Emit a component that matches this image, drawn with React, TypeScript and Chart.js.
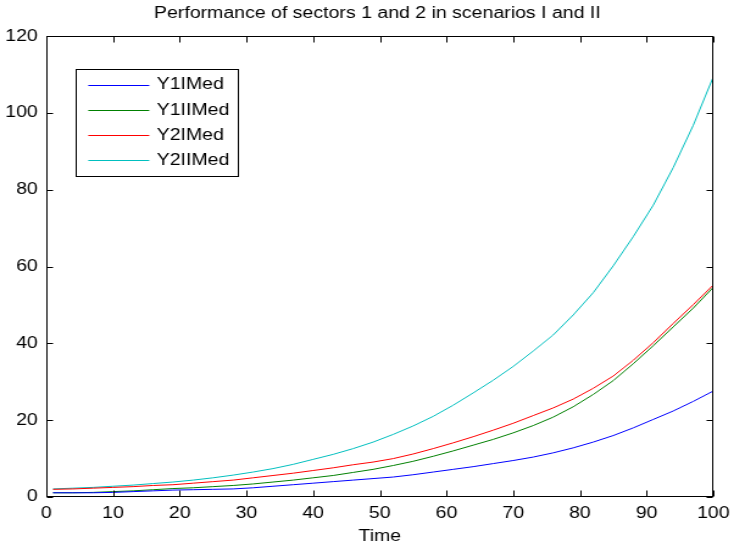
import React, { useEffect, useRef } from "react";
import { Chart, registerables } from "chart.js";

Chart.register(...registerables);

// ---------- data ----------
const chartTitle = "Performance of sectors 1 and 2 in scenarios I and II";
const xAxisLabel = "Time";
const seriesNames = ["Y1IMed", "Y1IIMed", "Y2IMed", "Y2IIMed"];
const seriesColors = ["#0000ff", "#008000", "#ff0000", "#00bfbf"];

const timeValues = [1, 4, 7, 10, 13, 16, 19, 22, 25, 28, 31, 34, 37, 40, 43, 46, 49, 52, 55, 58, 61, 64, 67, 70, 73, 76, 79, 82, 85, 88, 91, 94, 97, 100];

const y1IMed = [1.1, 1.1, 1.1, 1.2, 1.4, 1.6, 1.8, 1.9, 2.0, 2.1, 2.4, 2.8, 3.2, 3.6, 4.0, 4.4, 4.8, 5.2, 5.8, 6.5, 7.2, 7.9, 8.7, 9.5, 10.4, 11.5, 12.8, 14.3, 16.0, 18.0, 20.2, 22.4, 24.9, 27.6];
const y1IIMed = [1.1, 1.1, 1.2, 1.4, 1.6, 1.9, 2.2, 2.4, 2.7, 3.0, 3.4, 3.9, 4.4, 5.0, 5.6, 6.4, 7.2, 8.2, 9.3, 10.6, 12.0, 13.5, 15.0, 16.7, 18.6, 20.8, 23.5, 26.7, 30.3, 34.7, 39.4, 44.3, 49.2, 54.6];
const y2IMed = [2.0, 2.1, 2.3, 2.5, 2.7, 3.0, 3.2, 3.6, 4.0, 4.4, 5.0, 5.6, 6.2, 6.9, 7.6, 8.4, 9.1, 10.0, 11.2, 12.6, 14.1, 15.7, 17.4, 19.2, 21.2, 23.2, 25.5, 28.3, 31.5, 35.6, 40.2, 45.2, 50.1, 55.2];
const y2IIMed = [2.1, 2.3, 2.5, 2.8, 3.1, 3.5, 3.9, 4.4, 5.0, 5.7, 6.5, 7.4, 8.5, 9.8, 11.1, 12.6, 14.3, 16.3, 18.5, 21.0, 23.9, 27.1, 30.4, 34.0, 38.0, 42.2, 47.4, 53.2, 60.2, 67.8, 76.0, 85.8, 96.8, 109.4];

const xTicks = [0, 10, 20, 30, 40, 50, 60, 70, 80, 90, 100];
const yTicks = [0, 20, 40, 60, 80, 100, 120];

// ---------- layout (internal canvas units; canvas is stretched horizontally) ----------
const CANVAS_W = 602;
const CANVAS_H = 549;
const FONT_FAMILY = '"Liberation Sans", Arial, Helvetica, sans-serif';

const centerTitle = {
  id: "centerTitle",
  afterLayout(chart: any) {
    const tb = chart.titleBlock;
    if (!tb) return;
    const c = (chart.chartArea.left + chart.chartArea.right) / 2 - 2;
    const half = (tb.right - tb.left) / 2;
    tb.left = c - half;
    tb.right = c + half;
  },
};

const frameAndLegend = {
  id: "frameAndLegend",
  afterDatasetsDraw(chart: any) {
    const { ctx, chartArea: a, scales } = chart;
    const xs = scales.x;
    const ys = scales.y;
    const L = Math.round(a.left) + 0.5;
    const R = Math.round(a.right) - 0.5;
    const T = Math.round(a.top) + 0.5;
    const B = Math.round(a.bottom) - 0.5;
    ctx.save();
    ctx.strokeStyle = "#000";
    ctx.lineWidth = 1;
    ctx.beginPath();
    for (const v of xTicks) {
      const px = Math.round(xs.getPixelForValue(v)) + 0.5;
      ctx.moveTo(px, B);
      ctx.lineTo(px, B - 6);
      ctx.moveTo(px, T);
      ctx.lineTo(px, T + 6);
    }
    for (const v of yTicks) {
      const py = Math.round(ys.getPixelForValue(v)) + 0.5;
      ctx.moveTo(L, py);
      ctx.lineTo(L + 5, py);
      ctx.moveTo(R, py);
      ctx.lineTo(R - 5, py);
    }
    ctx.stroke();
    ctx.strokeRect(L, T, R - L, B - T);

    // legend box (MATLAB style, inside the axes)
    const lx = 62;
    const ly = 69;
    const lw = 133;
    const lh = 107;
    ctx.fillStyle = "#fff";
    ctx.fillRect(lx, ly, lw, lh);
    ctx.strokeStyle = "#000";
    ctx.strokeRect(lx + 0.5, ly + 0.5, lw, lh);
    ctx.font = `16px ${FONT_FAMILY}`;
    ctx.textBaseline = "middle";
    ctx.textAlign = "left";
    chart.data.datasets.forEach((ds: any, i: number) => {
      const yRow = 84.5 + i * 25.1;
      ctx.strokeStyle = ds.borderColor;
      ctx.lineWidth = 1.2;
      ctx.beginPath();
      ctx.moveTo(72.4, Math.round(yRow) + 0.5);
      ctx.lineTo(122.4, Math.round(yRow) + 0.5);
      ctx.stroke();
      ctx.fillStyle = "#000";
      ctx.fillText(ds.label, 128.5, yRow + 0.5);
    });
    ctx.restore();
  },
};

export default function App() {
  const ref = useRef<HTMLCanvasElement>(null);

  useEffect(() => {
    if (!ref.current) return;
    const allSeries = [y1IMed, y1IIMed, y2IMed, y2IIMed];
    const datasets = allSeries.map((vals, i) => ({
      label: seriesNames[i],
      data: timeValues.map((t, j) => ({ x: t, y: vals[j] })),
      borderColor: seriesColors[i],
      backgroundColor: seriesColors[i],
      borderWidth: 1,
      pointRadius: 0,
      tension: 0,
      fill: false,
    }));

    const chart = new Chart(ref.current, {
      type: "line",
      data: { datasets },
      plugins: [centerTitle, frameAndLegend],
      options: {
        responsive: false,
        maintainAspectRatio: false,
        animation: false,
        devicePixelRatio: 1,
        font: { family: FONT_FAMILY },
        layout: { padding: { left: 0, right: 17, top: 0, bottom: 0 } },
        plugins: {
          legend: { display: false },
          tooltip: { enabled: false },
          title: {
            display: true,
            text: chartTitle,
            color: "#000",
            font: { family: FONT_FAMILY, size: 16, weight: "normal" },
            padding: { top: 4, bottom: 13 },
          },
        },
        scales: {
          x: {
            type: "linear",
            min: 0,
            max: 100,
            grid: { display: false, drawTicks: false },
            border: { display: false },
            ticks: {
              stepSize: 10,
              color: "#000",
              padding: 7,
              autoSkip: false,
              maxRotation: 0,
              font: { family: FONT_FAMILY, size: 16 },
            },
            title: {
              display: true,
              text: xAxisLabel,
              color: "#000",
              font: { family: FONT_FAMILY, size: 16 },
              padding: { top: 0, bottom: 3 },
            },
            afterFit(scale: any) {
              scale.height = 52;
              scale.paddingLeft = 0;
              scale.paddingRight = 0;
            },
          },
          y: {
            type: "linear",
            min: 0,
            max: 120,
            grid: { display: false, drawTicks: false },
            border: { display: false },
            ticks: {
              stepSize: 20,
              color: "#000",
              padding: 7,
              font: { family: FONT_FAMILY, size: 16 },
            },
            afterFit(scale: any) {
              scale.width = 38;
              scale.paddingTop = 0;
              scale.paddingBottom = 0;
            },
          },
        },
      },
    } as any);

    return () => chart.destroy();
  }, []);

  return (
    <div style={{ position: "fixed", left: 0, top: 0, width: 734, height: 549, background: "#fff" }}>
      <canvas
        ref={ref}
        width={CANVAS_W}
        height={CANVAS_H}
        style={{ width: "734px", height: "549px", display: "block" }}
      />
    </div>
  );
}
